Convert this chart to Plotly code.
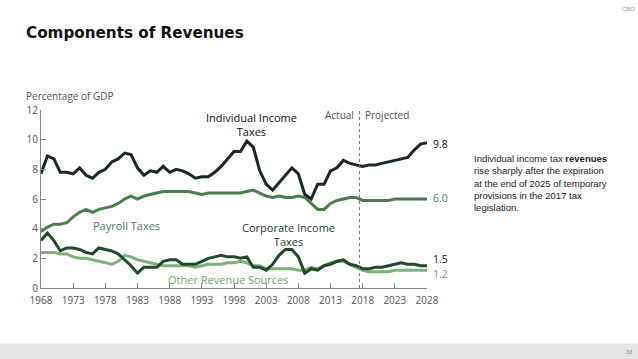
import plotly.graph_objects as go

years = list(range(1968, 2029))

individual = [7.7, 8.9, 8.7, 7.8, 7.8, 7.7, 8.1, 7.6, 7.4, 7.8, 8.0, 8.5, 8.7, 9.1, 9.0, 8.1,
              7.6, 7.9, 7.8, 8.2, 7.8, 8.0, 7.9, 7.7, 7.4, 7.5, 7.5, 7.8, 8.2, 8.7, 9.2, 9.2,
              9.9, 9.5, 7.9, 7.0, 6.6, 7.1, 7.6, 8.1, 7.7, 6.3, 6.0, 7.0, 7.0, 7.9, 8.1, 8.6,
              8.4, 8.3, 8.2, 8.3, 8.3, 8.4, 8.5, 8.6, 8.7, 8.8, 9.3, 9.7, 9.8]

payroll = [3.8, 4.1, 4.3, 4.3, 4.4, 4.8, 5.1, 5.3, 5.1, 5.3, 5.4, 5.5, 5.7, 6.0, 6.2, 6.0,
           6.2, 6.3, 6.4, 6.5, 6.5, 6.5, 6.5, 6.5, 6.4, 6.3, 6.4, 6.4, 6.4, 6.4, 6.4, 6.4,
           6.5, 6.6, 6.4, 6.2, 6.1, 6.2, 6.1, 6.1, 6.2, 6.1, 5.7, 5.3, 5.3, 5.7, 5.9, 6.0,
           6.1, 6.1, 5.9, 5.9, 5.9, 5.9, 5.9, 6.0, 6.0, 6.0, 6.0, 6.0, 6.0]

corporate = [3.2, 3.7, 3.2, 2.5, 2.7, 2.7, 2.6, 2.4, 2.3, 2.7, 2.6, 2.5, 2.3, 1.9, 1.5, 1.0,
             1.4, 1.4, 1.4, 1.8, 1.9, 1.9, 1.6, 1.6, 1.6, 1.8, 2.0, 2.1, 2.2, 2.1, 2.1, 2.0,
             2.1, 1.4, 1.4, 1.2, 1.6, 2.2, 2.6, 2.6, 2.1, 1.0, 1.3, 1.2, 1.5, 1.6, 1.8, 1.9,
             1.6, 1.5, 1.3, 1.3, 1.4, 1.4, 1.5, 1.6, 1.7, 1.6, 1.6, 1.5, 1.5]

other = [2.4, 2.4, 2.4, 2.3, 2.3, 2.1, 2.0, 2.0, 1.9, 1.8, 1.7, 1.6, 1.8, 2.2, 2.1, 1.9,
         1.8, 1.7, 1.6, 1.5, 1.5, 1.5, 1.5, 1.5, 1.4, 1.5, 1.6, 1.6, 1.6, 1.7, 1.7, 1.8,
         1.7, 1.5, 1.5, 1.3, 1.3, 1.3, 1.3, 1.3, 1.2, 1.2, 1.4, 1.3, 1.5, 1.7, 1.8, 1.8,
         1.6, 1.4, 1.2, 1.1, 1.1, 1.1, 1.1, 1.2, 1.2, 1.2, 1.2, 1.2, 1.2]

x_ticks = list(range(1968, 2029, 5))
y_ticks = [0, 2, 4, 6, 8, 10, 12]

C_IND = "#1b2a1f"
C_CORP = "#1f4a2b"
C_PAY = "#4c7d51"
C_OTH = "#80b07a"
GREY = "#555555"

fig = go.Figure()
for vals, col in [(other, C_OTH), (payroll, C_PAY), (corporate, C_CORP), (individual, C_IND)]:
    fig.add_trace(go.Scatter(x=years, y=vals, mode="lines",
                             line=dict(color=col, width=3), hoverinfo="skip"))

W, H = 638, 359
L, R, T, B = 41, 211, 110, 71.4
pw = W - L - R
ph = H - T - B

def px_x(p):
    return (p - L) / pw

def px_y(p):
    return (H - B - p) / ph

fig.update_layout(
    width=W, height=H,
    margin=dict(l=L, r=R, t=T, b=B, autoexpand=False),
    paper_bgcolor="white", plot_bgcolor="white",
    showlegend=False,
    font=dict(family="Open Sans", color=GREY),
    xaxis=dict(range=[1968, 2028], tickvals=x_ticks, ticks="inside", ticklen=5,
               tickcolor="#888", showgrid=False, zeroline=False, showline=True,
               linecolor="#888", linewidth=1, tickfont=dict(size=10, color=GREY),
               ticklabelstandoff=3),
    yaxis=dict(range=[0, 12], tickvals=y_ticks, ticks="inside", ticklen=5,
               tickcolor="#888", showgrid=False, zeroline=False, showline=True,
               linecolor="#888", linewidth=1, tickfont=dict(size=10, color=GREY)),
)

fig.add_shape(type="line", xref="x", yref="y", x0=2017.5, x1=2017.5, y0=0, y1=12.1,
              line=dict(color="#777", width=1, dash="dot"))
fig.add_shape(type="rect", xref="paper", yref="paper", x0=px_x(0), x1=px_x(W),
              y0=px_y(H), y1=px_y(343), fillcolor="#e5e5e5", line=dict(width=0), layer="below")

ann = []
def A(text, x, y, size, color, xanchor="center", family="Open Sans", **kw):
    ann.append(dict(text=text, x=x, y=y, xref="paper", yref="paper", showarrow=False,
                    font=dict(size=size, color=color, family=family),
                    xanchor=xanchor, yanchor="middle", **kw))

A("<b>Components of Revenues</b>", px_x(24), px_y(33), 15.2, "#111", xanchor="left", family="DejaVu Sans")
A("CBO", px_x(628), px_y(9), 6, "#999", family="Liberation Sans")
A("33", px_x(629), px_y(351), 5.5, "#888", family="Liberation Sans")
A("Percentage of GDP", px_x(24), px_y(96), 10, GREY, xanchor="left")
A("Individual Income<br>Taxes", px_x(251), px_y(124), 11, "#111")
A("Actual", px_x(356), px_y(115), 10, GREY, xanchor="right")
A("Projected", px_x(363), px_y(115), 10, GREY, xanchor="left")
A("Payroll Taxes", px_x(126), px_y(225), 11, C_PAY)
A("Corporate Income<br>Taxes", px_x(288), px_y(234), 11, "#1e3d26")
A("Other Revenue Sources", px_x(228), px_y(279), 11, "#6ea56a")
A(f"{individual[-1]:.1f}", px_x(431), px_y(144), 10.5, "#111", xanchor="left")
A(f"{payroll[-1]:.1f}", px_x(431), px_y(198), 10.5, C_PAY, xanchor="left")
A(f"{corporate[-1]:.1f}", px_x(431), px_y(259), 10.5, "#111", xanchor="left")
A(f"{other[-1]:.1f}", px_x(431), px_y(274), 10.5, "#6ea56a", xanchor="left")
A("Individual income tax <b>revenues</b><br>rise sharply after the expiration<br>at the end of 2025 of temporary<br>provisions in the 2017 tax<br>legislation.",
  px_x(472), px_y(183), 9.5, "#222", xanchor="left", family="Liberation Sans", align="left")

fig.update_layout(annotations=ann)
fig.write_html("out.html", config={"displayModeBar": False},
               post_script="document.body.style.margin='0px';document.body.style.overflow='hidden';")
